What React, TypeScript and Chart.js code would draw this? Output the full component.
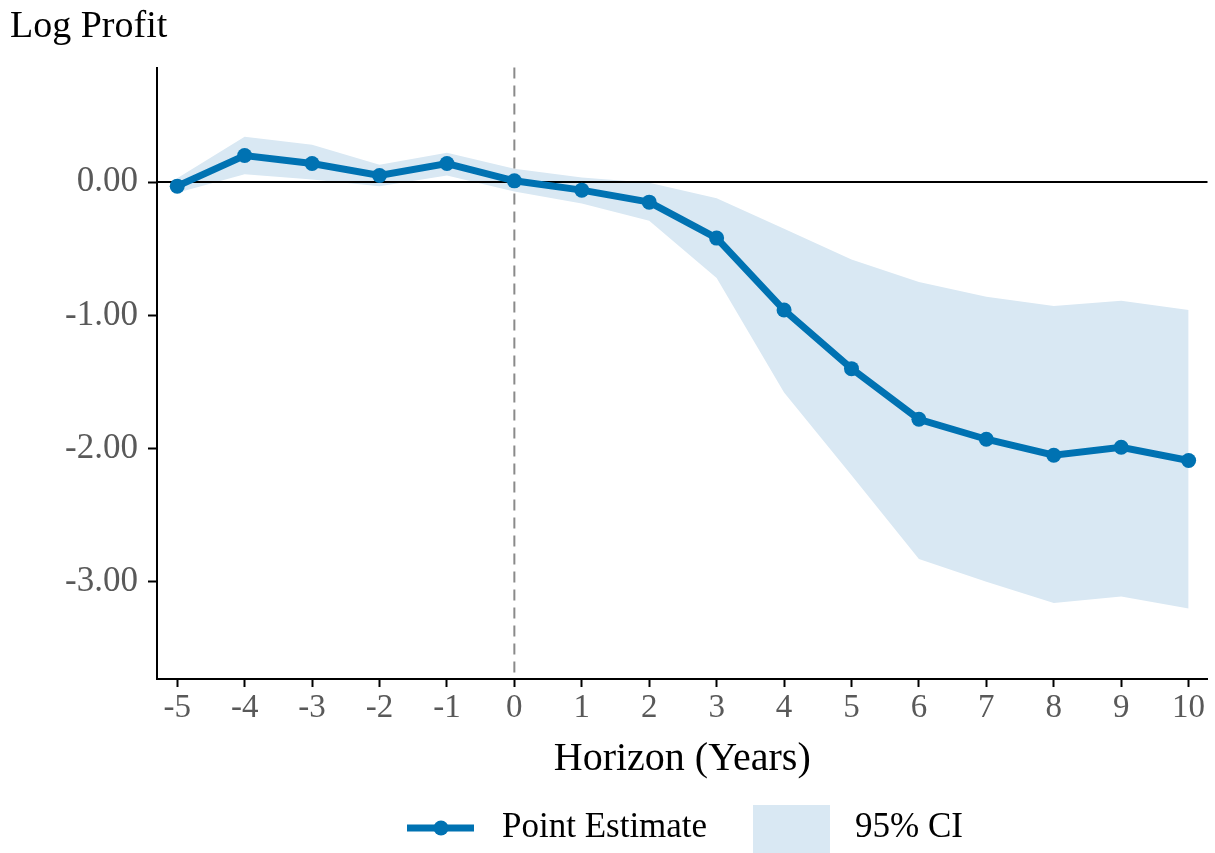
import React, { useEffect, useRef } from "react";
import { Chart, registerables } from "chart.js";

Chart.register(...registerables);

const horizons = [-5, -4, -3, -2, -1, 0, 1, 2, 3, 4, 5, 6, 7, 8, 9, 10];
const pointEstimate = [-0.03, 0.2, 0.14, 0.05, 0.14, 0.01, -0.06, -0.15, -0.42, -0.96, -1.4, -1.78, -1.93, -2.05, -1.99, -2.09];
const ciUpper = [0.03, 0.34, 0.28, 0.13, 0.22, 0.1, 0.035, -0.005, -0.12, -0.35, -0.58, -0.75, -0.86, -0.93, -0.89, -0.96];
const ciLower = [-0.08, 0.06, 0.02, -0.03, 0.05, -0.07, -0.16, -0.29, -0.72, -1.58, -2.2, -2.83, -3.0, -3.16, -3.11, -3.2];
const xTicks = [-5, -4, -3, -2, -1, 0, 1, 2, 3, 4, 5, 6, 7, 8, 9, 10];
const yTicks = [-3, -2, -1, 0];

const FONT = '"Liberation Serif", "Times New Roman", Times, serif';
const BLUE = "#0072b2";
const BAND = "#d9e8f3";
const TICK_GRAY = "#595959";

export default function App() {
  const ref = useRef<HTMLCanvasElement | null>(null);

  useEffect(() => {
    document.body.style.margin = "0";
    const canvas = ref.current;
    if (!canvas) return;

    const refLines = {
      id: "refLines",
      beforeDatasetsDraw(chart: any) {
        const { ctx, chartArea, scales } = chart;
        const y0 = Math.round(scales.y.getPixelForValue(0));
        const x0 = scales.x.getPixelForValue(0);
        ctx.save();
        ctx.strokeStyle = "#000";
        ctx.lineWidth = 2;
        ctx.beginPath();
        ctx.moveTo(chartArea.left, y0);
        ctx.lineTo(chartArea.right, y0);
        ctx.stroke();
        ctx.strokeStyle = "#8a8a8a";
        ctx.lineWidth = 2;
        ctx.setLineDash([11, 7]);
        ctx.beginPath();
        ctx.moveTo(x0, chartArea.top);
        ctx.lineTo(x0, chartArea.bottom);
        ctx.stroke();
        ctx.restore();
      },
    };

    const legendPlugin = {
      id: "customLegend",
      afterDraw(chart: any) {
        const { ctx } = chart;
        const cy = 828;
        ctx.save();
        ctx.strokeStyle = BLUE;
        ctx.lineWidth = 7;
        ctx.beginPath();
        ctx.moveTo(407, cy);
        ctx.lineTo(474, cy);
        ctx.stroke();
        ctx.fillStyle = BLUE;
        ctx.beginPath();
        ctx.arc(441, cy, 7.5, 0, Math.PI * 2);
        ctx.fill();
        ctx.fillStyle = "#000";
        ctx.font = `35px ${FONT}`;
        ctx.textBaseline = "middle";
        ctx.textAlign = "left";
        ctx.fillText("Point Estimate", 502, cy);
        ctx.fillStyle = BAND;
        ctx.fillRect(753, 805, 77, 48);
        ctx.fillStyle = "#000";
        ctx.fillText("95% CI", 855, cy);
        ctx.restore();
      },
    };

    const chart = new Chart(canvas, {
      type: "line",
      data: {
        datasets: [
          {
            label: "CI upper",
            data: horizons.map((x, i) => ({ x, y: ciUpper[i] })),
            borderWidth: 0,
            pointRadius: 0,
            backgroundColor: BAND,
            borderColor: "rgba(0,0,0,0)",
            fill: "+1",
            order: 3,
          },
          {
            label: "CI lower",
            data: horizons.map((x, i) => ({ x, y: ciLower[i] })),
            borderWidth: 0,
            pointRadius: 0,
            borderColor: "rgba(0,0,0,0)",
            fill: false,
            order: 2,
          },
          {
            label: "Point Estimate",
            data: horizons.map((x, i) => ({ x, y: pointEstimate[i] })),
            borderColor: BLUE,
            backgroundColor: BLUE,
            borderWidth: 7,
            pointRadius: 7.5,
            pointBackgroundColor: BLUE,
            pointBorderWidth: 0,
            fill: false,
            tension: 0,
            order: 0,
          },
        ],
      },
      options: {
        responsive: false,
        animation: false,
        devicePixelRatio: 1,
        layout: { padding: { left: 10, right: 7, top: 0, bottom: 70 } },
        plugins: {
          legend: { display: false },
          tooltip: { enabled: false },
          filler: { drawTime: "beforeDatasetsDraw" },
          title: {
            display: true,
            text: "Log Profit",
            align: "start",
            color: "#000",
            font: { family: FONT, size: 38, weight: "normal" },
            padding: { top: 4, bottom: 18 },
          },
        },
        scales: {
          x: {
            type: "linear",
            min: -5.3,
            max: 10.28,
            afterFit: (scale: any) => {
              scale.height = 104;
            },
            afterBuildTicks: (scale: any) => {
              scale.ticks = xTicks.map((v) => ({ value: v }));
            },
            ticks: {
              autoSkip: false,
              maxRotation: 0,
              color: TICK_GRAY,
              font: { family: FONT, size: 33 },
              padding: 2,
              callback: (v: any) => String(v),
            },
            grid: {
              display: true,
              drawOnChartArea: false,
              drawTicks: true,
              tickLength: 8,
              tickColor: "#000",
              tickWidth: 2,
            },
            border: { display: true, color: "#000", width: 2 },
            title: {
              display: true,
              text: "Horizon (Years)",
              color: "#000",
              font: { family: FONT, size: 40 },
              padding: { top: 0, bottom: 0 },
            },
          },
          y: {
            type: "linear",
            min: -3.73,
            max: 0.86,
            afterFit: (scale: any) => {
              scale.width = 147;
            },
            afterBuildTicks: (scale: any) => {
              scale.ticks = yTicks.map((v) => ({ value: v }));
            },
            ticks: {
              color: TICK_GRAY,
              font: { family: FONT, size: 35 },
              padding: 10,
              callback: (v: any) => Number(v).toFixed(2),
            },
            grid: {
              display: true,
              drawOnChartArea: false,
              drawTicks: true,
              tickLength: 9,
              tickColor: "#000",
              tickWidth: 2,
            },
            border: { display: true, color: "#000", width: 2 },
          },
        },
      },
      plugins: [refLines, legendPlugin],
    } as any);

    return () => {
      chart.destroy();
    };
  }, []);

  return (
    <div style={{ width: 1215, height: 853, background: "#fff" }}>
      <canvas ref={ref} width={1215} height={853} />
    </div>
  );
}
